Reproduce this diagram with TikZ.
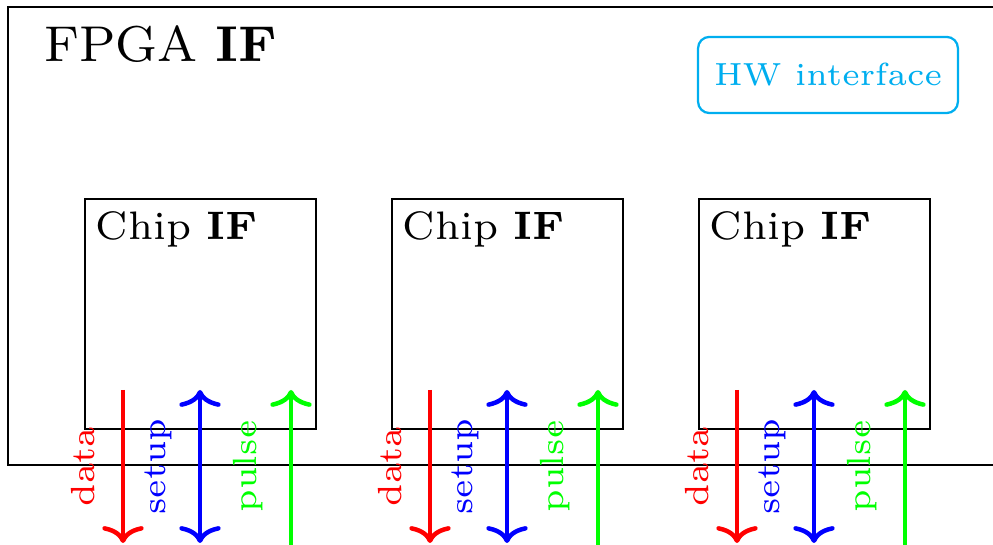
\documentclass[tikz,border=0pt]{standalone}
\usetikzlibrary{arrows.meta}
\definecolor{hwcyan}{RGB}{0,174,239}
% small-design-size text enlarged to its printed width
\newcommand{\fittext}[3]{\resizebox{#1}{!}{\fontsize{#2}{#2}\selectfont #3}}
\newcommand{\sigtext}[1]{\scalebox{1.49}{\fontsize{6}{7}\selectfont #1}}
\tikzset{
  frame/.style={draw, line width=0.5pt},
  chipbox/.style={draw, line width=0.5pt, inner sep=0pt,
    minimum width=61.6pt, minimum height=61.3pt, anchor=north west},
  tip/.tip={Computer Modern Rightarrow[width=11pt,length=4.5pt]},
  sig/.style={line width=1.2pt, -tip},
  bisig/.style={line width=1.2pt, tip-tip},
  siglabel/.style={rotate=90, anchor=south, inner sep=0pt},
  title/.style={anchor=base west, inner sep=0pt},
}
\begin{document}
\begin{tikzpicture}[x=0.2667pt,y=-0.2667pt]
\useasboundingbox (0,0) rectangle (993,545);

% outer FPGA interface frame
\draw[frame] (8,7) rectangle (1030,465);
\node[title] (fpga) at (44,61.5) {\fittext{62.1pt}{8}{FPGA \textbf{IF}}};

% hardware interface legend
\node[draw=hwcyan, text=hwcyan, rounded corners=3pt, line width=0.6pt,
      minimum width=69.3pt, minimum height=20.3pt, inner sep=0pt] (hw) at (828,75)
      {\fittext{60.8pt}{6}{HW interface}};

% three chip interfaces with their signals
\foreach \i/\bx in {1/84, 2/391, 3/698} {
  \node[chipbox] (chip\i) at (\bx,198) {};
  \node[title] (chiplabel\i) at (\bx+11,240) {\fittext{43.2pt}{7}{Chip \textbf{IF}}};

  \coordinate (datatop\i) at (\bx+39,390);
  \coordinate (databot\i) at (\bx+39,543);
  \coordinate (setuptop\i) at (\bx+116,390);
  \coordinate (setupbot\i) at (\bx+116,543);
  \coordinate (pulsetop\i) at (\bx+207,390);
  \coordinate (pulsebot\i) at (\bx+207,545);

  \draw[sig, red] (datatop\i) -- (databot\i);
  \draw[bisig, blue] (setuptop\i) -- (setupbot\i);
  \draw[sig, green] (pulsebot\i) -- (pulsetop\i);

  \node[siglabel, text=red] (datalabel\i) at (\bx+12,466.5) {\sigtext{data}};
  \node[siglabel, text=blue] (setuplabel\i) at (\bx+89,466.5) {\sigtext{setup}};
  \node[siglabel, text=green] (pulselabel\i) at (\bx+180,466.5) {\sigtext{pulse}};
}
\end{tikzpicture}
\end{document}
